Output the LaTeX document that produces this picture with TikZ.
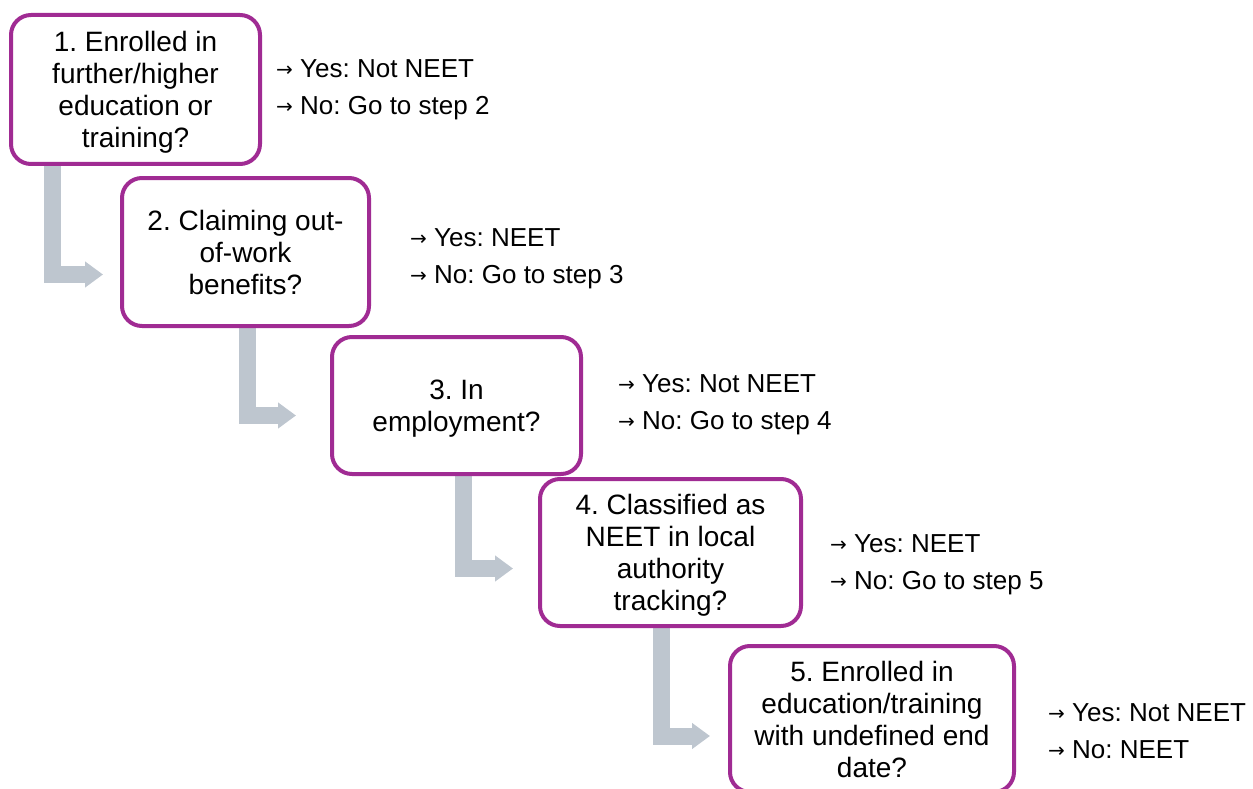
\documentclass[tikz,border=0pt]{standalone}
\usepackage{fontspec}
\setmainfont{Liberation Sans}
\newfontfamily\symfont{DejaVu Sans}
\usetikzlibrary{arrows.meta,backgrounds}
\definecolor{boxpurple}{RGB}{160,43,147}
\definecolor{arrowgray}{RGB}{190,198,207}
\newcommand{\arr}{\raisebox{1pt}{\symfont\fontsize{20}{20}\selectfont →} }
\frenchspacing
\begin{document}
\begin{tikzpicture}[x=1pt,y=-1pt,
  stepbox/.style={draw=boxpurple, line width=4pt, rounded corners=20pt, fill=white, align=center,
    font=\fontsize{28}{32}\selectfont, inner sep=0pt, text depth=0pt},
  garrow/.style={draw=arrowgray, line width=17pt, -{Triangle[width=25pt,length=18pt]}},
  outcome/.style={anchor=west, align=left, font=\fontsize{26}{37}\selectfont, inner sep=0pt}]
\useasboundingbox (0,0) rectangle (1253,789);

\node[stepbox, minimum width=249pt, minimum height=149pt] (b1) at (135.5,89.5)
  {1. Enrolled in\\further/higher\\education or\\training?};
\node[stepbox, minimum width=247pt, minimum height=148pt] (b2) at (245.5,252)
  {2. Claiming out-\\of-work\\benefits?};
\node[stepbox, minimum width=249pt, minimum height=137pt] (b3) at (456.5,405.5)
  {3. In\\employment?};
\node[stepbox, minimum width=261pt, minimum height=147pt] (b4) at (670.5,552.5)
  {4. Classified as\\NEET in local\\authority\\tracking?};
\node[stepbox, minimum width=284pt, minimum height=146pt] (b5) at (872,719)
  {5. Enrolled in\\education/training\\with undefined end\\date?};

\begin{scope}[on background layer]
\draw[garrow] ([xshift=43pt]b1.south west) |- ([xshift=-17pt,yshift=-22.5pt]b2.west);
\draw[garrow] ([xshift=127pt]b2.south west) |- ([xshift=-34pt,yshift=-10pt]b3.west);
\draw[garrow] ([xshift=133.5pt]b3.south west) |- ([xshift=-25pt,yshift=-16pt]b4.west);
\draw[garrow] ([xshift=123pt]b4.south west) |- ([xshift=-18pt,yshift=-17pt]b5.west);
\end{scope}

\node[outcome] (o1) at (276,89.5) {\arr Yes: Not NEET\\\arr No: Go to step 2};
\node[outcome] (o2) at (410,258.5) {\arr Yes: NEET\\\arr No: Go to step 3};
\node[outcome] (o3) at (618,405) {\arr Yes: Not NEET\\\arr No: Go to step 4};
\node[outcome] (o4) at (830,565) {\arr Yes: NEET\\\arr No: Go to step 5};
\node[outcome] (o5) at (1048,731.5) {\arr Yes: Not NEET\\\arr No: NEET};
\end{tikzpicture}
\end{document}
